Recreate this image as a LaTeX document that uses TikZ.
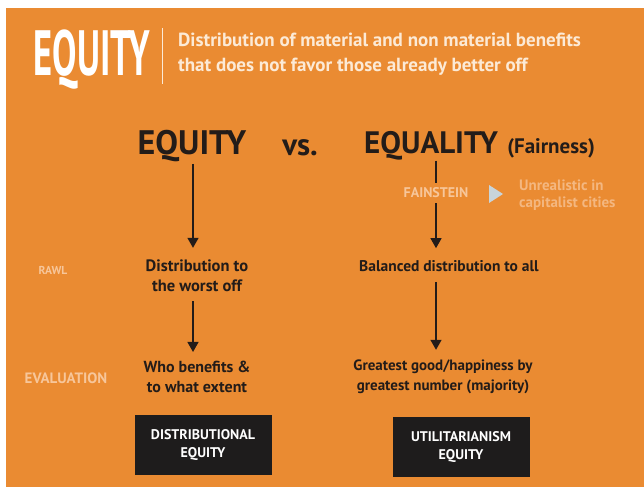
\documentclass[tikz,border=0pt]{standalone}
\usepackage{fontspec}
\usepackage{graphicx}
\setmainfont{PT Sans}
\usetikzlibrary{arrows.meta}

\definecolor{bgorange}{RGB}{234,139,50}
\definecolor{inkdark}{RGB}{35,28,25}
\definecolor{boxblack}{RGB}{30,28,28}
\definecolor{cream}{RGB}{252,234,214}
\definecolor{faint}{RGB}{247,198,154}
\definecolor{tricol}{RGB}{200,212,218}

\begin{document}
\begin{tikzpicture}[x=1pt, y=-1pt, inner sep=0pt,
  darktxt/.style={text=inkdark, font=\bfseries\fontsize{15.5}{20}\selectfont, align=center},
  headtxt/.style={text=inkdark, font=\bfseries\fontsize{34}{34}\selectfont},
  fainttxt/.style={text=faint, font=\bfseries\fontsize{11.5}{17}\selectfont, align=left},
  deftxt/.style={anchor=base west, text=cream, font=\bfseries\fontsize{19}{19}\selectfont},
  blackbox/.style={fill=boxblack, text=white, minimum width=137pt, minimum height=60pt,
    font=\bfseries\fontsize{14}{18}\selectfont, align=center},
  arr/.style={-{Triangle[width=11pt,length=10pt]}, line width=1.3pt, inkdark}]

  % Background
  \useasboundingbox (0,0) rectangle (644,489);
  \fill[white] (0,0) rectangle (644,489);
  \fill[bgorange] (6,8) rectangle (644,487);

  % Title and definition
  \node[text=white, font=\bfseries\fontsize{64}{64}\selectfont] (title) at (92,60) {\scalebox{0.57}[1]{EQUITY}};
  \draw[cream, line width=1pt] (162,28) -- (162,84);
  \node[deftxt] (defn1) at (178,47) {Distribution of material and non material benefits};
  \node[deftxt] (defn2) at (178,72) {that does not favor those already better off};

  % Column headings
  \node[headtxt] (eqL) at (192,146) {EQUITY};
  \node[headtxt, font=\bfseries\fontsize{31}{31}\selectfont] (vs) at (300,148) {vs.};
  \node[headtxt, font=\bfseries\fontsize{31}{31}\selectfont] (eqR) at (431,146) {EQUALITY};
  \node[anchor=base west, text=inkdark, font=\bfseries\fontsize{21}{21}\selectfont] (fair)
    at ([xshift=9pt]eqR.base east) {(Fairness)};

  % Fainstein remark
  \node[fainttxt, font=\bfseries\fontsize{14}{14}\selectfont, inner sep=5pt] (fain) at (436,193) {FAINSTEIN};
  \fill[tricol] (489,185) -- (503,194) -- (489,203) -- cycle;
  \node[fainttxt, text=faint!75!bgorange, anchor=west, font=\bfseries\fontsize{15}{17}\selectfont] (unreal) at (519,195)
    {Unrealistic in\\capitalist cities};

  % Row labels
  \node[fainttxt] (rawl) at (53,270) {RAWL};
  \node[fainttxt, font=\bfseries\fontsize{15}{15}\selectfont] (evalu) at (66,378) {EVALUATION};

  % Equity column
  \coordinate (axL) at (193,0);
  \node[darktxt, font=\bfseries\fontsize{16.5}{20}\selectfont] (distL) at (197,276) {Distribution to\\the worst off};
  \node[darktxt, font=\bfseries\fontsize{16}{20}\selectfont] (whoL) at (197,377) {Who benefits \&\\to what extent};
  \node[blackbox] (boxL) at (203,445) {DISTRIBUTIONAL\\EQUITY};

  % Equality column
  \node[darktxt] (bal) at (449,266) {Balanced distribution to all};
  \node[darktxt, font=\bfseries\fontsize{15}{20}\selectfont] (great) at (443,377) {Greatest good/happiness by\\greatest number (majority)};
  \node[blackbox] (boxR) at (461,447) {UTILITARIANISM\\EQUITY};

  % Arrows
  \draw[arr, shorten <=2pt, shorten >=12pt] (eqL.south -| axL) -- (distL.north -| axL);
  \draw[arr, shorten <=9pt, shorten >=9pt] (distL.south -| axL) -- (whoL.north -| axL);
  \draw[line width=1.3pt, inkdark] (eqR.south -| fain) -- (fain.north);
  \draw[arr, shorten >=12pt] (fain.south) -- (fain |- bal.north);
  \draw[arr, shorten <=10pt, shorten >=10pt] (bal.south -| fain) -- (great.north -| fain);
\end{tikzpicture}
\end{document}
